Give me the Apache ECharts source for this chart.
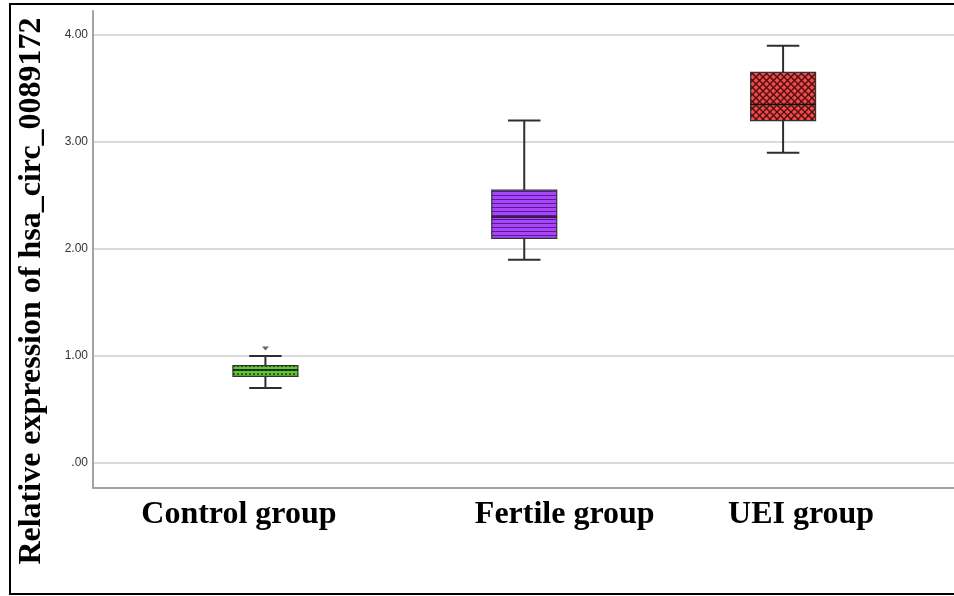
<!DOCTYPE html>
<html>
<head>
<meta charset="utf-8">
<script src="https://cdn.jsdelivr.net/npm/echarts@6/dist/echarts.min.js"></script>
<style>
  html, body { margin: 0; padding: 0; background: #fff; }
  #chart { width: 954px; height: 596px; }
</style>
</head>
<body>
<div id="chart"></div>
<script>
// Group names on the x axis
const categories = ['Control group', 'Fertile group', 'UEI group'];
// Five-number summaries per group: [min, Q1, median, Q3, max]
const controlBox = [0.70, 0.81, 0.87, 0.91, 1.00];
const fertileBox = [1.90, 2.10, 2.30, 2.55, 3.20];
const ueiBox = [2.90, 3.20, 3.35, 3.65, 3.90];
// Outlying observations: [group index, value]
const outliers = [[0, 1.07]];
// Y axis ticks and their printed labels
const yTicks = [0, 1, 2, 3, 4];
const yTickLabels = ['.00', '1.00', '2.00', '3.00', '4.00'];
const yTitle = 'Relative expression of hsa_circ_0089172';

// Small repeating canvas tiles used as box fills
function makePattern(w, h, draw) {
  const c = document.createElement('canvas');
  c.width = w; c.height = h;
  const ctx = c.getContext('2d');
  draw(ctx, w, h);
  return { image: c, repeat: 'repeat' };
}
const dotFill = makePattern(4, 4, (ctx, w, h) => {
  ctx.fillStyle = '#5fc832'; ctx.fillRect(0, 0, w, h);
  ctx.fillStyle = '#2a5f18'; ctx.fillRect(1, 1, 2, 2);
});
const stripeFill = makePattern(4, 4, (ctx, w, h) => {
  ctx.fillStyle = '#a646f8'; ctx.fillRect(0, 0, w, h);
  ctx.fillStyle = '#5a1894'; ctx.fillRect(0, 3, w, 1);
});
const hatchFill = makePattern(7, 7, (ctx, w, h) => {
  ctx.fillStyle = '#f24a4a'; ctx.fillRect(0, 0, w, h);
  ctx.strokeStyle = '#4a1010'; ctx.lineWidth = 1.4;
  ctx.beginPath();
  ctx.moveTo(-1, -1); ctx.lineTo(w + 1, h + 1);
  ctx.moveTo(w + 1, -1); ctx.lineTo(-1, h + 1);
  ctx.stroke();
});
const boxFills = [dotFill, stripeFill, hatchFill];

const boxData = [controlBox, fertileBox, ueiBox].map((b, i) => [i].concat(b));

function renderBox(params, api) {
  const x = api.value(0);
  const lo = api.coord([x, api.value(1)]);
  const q1 = api.coord([x, api.value(2)]);
  const med = api.coord([x, api.value(3)]);
  const q3 = api.coord([x, api.value(4)]);
  const hi = api.coord([x, api.value(5)]);
  const band = api.size([1, 0])[0];
  const boxW = band * 0.251;
  const capW = boxW * 0.5;
  const cx = lo[0];
  const whisker = { stroke: '#2e2e2e', lineWidth: 2 };
  return {
    type: 'group',
    children: [
      { type: 'line', shape: { x1: cx, y1: hi[1], x2: cx, y2: q3[1] }, style: whisker },
      { type: 'line', shape: { x1: cx, y1: q1[1], x2: cx, y2: lo[1] }, style: whisker },
      { type: 'line', shape: { x1: cx - capW / 2, y1: hi[1], x2: cx + capW / 2, y2: hi[1] }, style: whisker },
      { type: 'line', shape: { x1: cx - capW / 2, y1: lo[1], x2: cx + capW / 2, y2: lo[1] }, style: whisker },
      {
        type: 'rect',
        shape: { x: cx - boxW / 2, y: q3[1], width: boxW, height: q1[1] - q3[1] },
        style: { fill: boxFills[params.dataIndex], stroke: '#333', lineWidth: 1.2 }
      },
      { type: 'line', shape: { x1: cx - boxW / 2, y1: med[1], x2: cx + boxW / 2, y2: med[1] },
        style: { stroke: '#111', lineWidth: 1.5 } }
    ]
  };
}

const labelFont = { fontFamily: 'Liberation Serif', fontWeight: 'bold', fontSize: 32, color: '#000' };

const chart = echarts.init(document.getElementById('chart'), null, { renderer: 'canvas' });
chart.setOption({
  animation: false,
  backgroundColor: '#fff',
  grid: [
    // gridlines and value labels
    { left: 93, right: 0, top: 35, bottom: 133, containLabel: false, outerBoundsMode: 'none' },
    // axis frame
    { left: 93, right: 0, top: 11, bottom: 108, containLabel: false, outerBoundsMode: 'none' },
    // boxes
    { left: 136, right: 41.5, top: 35, bottom: 133, containLabel: false, outerBoundsMode: 'none' }
  ],
  xAxis: [
    { gridIndex: 0, type: 'value', min: 0, max: 1, show: false },
    {
      gridIndex: 1, type: 'value', min: 0, max: 1,
      axisLine: { show: true, onZero: false, lineStyle: { color: '#a3a3a3', width: 2 } },
      axisTick: { show: false }, axisLabel: { show: false }, splitLine: { show: false }
    },
    {
      gridIndex: 2, type: 'category', data: categories, boundaryGap: true,
      axisLine: { show: false }, axisTick: { show: false }, splitLine: { show: false },
      axisLabel: {
        interval: 0, margin: 36,
        formatter: (v, i) => '{g' + i + '|' + v + '}',
        rich: {
          g0: Object.assign({ padding: [0, 53, 0, 0] }, labelFont),
          g1: Object.assign({ padding: [0, 0, 0, 81] }, labelFont),
          g2: Object.assign({ padding: [0, 0, 0, 36] }, labelFont)
        }
      }
    }
  ],
  yAxis: [
    {
      gridIndex: 0, type: 'value', min: 0, max: 4, interval: 1,
      axisLine: { show: false }, axisTick: { show: false },
      splitLine: { show: true, lineStyle: { color: '#dadada', width: 2 } },
      axisLabel: {
        margin: 5, fontSize: 12, fontFamily: 'Liberation Sans', color: '#333',
        formatter: v => yTickLabels[yTicks.indexOf(v)]
      }
    },
    {
      gridIndex: 1, type: 'value', min: 0, max: 1,
      axisLine: { show: true, onZero: false, lineStyle: { color: '#a3a3a3', width: 2 } },
      axisTick: { show: false }, axisLabel: { show: false }, splitLine: { show: false }
    },
    { gridIndex: 2, type: 'value', min: 0, max: 4, show: false }
  ],
  series: [
    {
      type: 'custom', xAxisIndex: 2, yAxisIndex: 2,
      renderItem: renderBox,
      encode: { x: 0, y: [1, 2, 3, 4, 5] },
      data: boxData,
      silent: true
    },
    {
      type: 'scatter', xAxisIndex: 2, yAxisIndex: 2,
      symbol: 'triangle', symbolRotate: 180, symbolSize: [7, 4],
      itemStyle: { color: '#444' },
      data: outliers,
      silent: true
    }
  ],
  graphic: [
    {
      type: 'rect', z: 100, silent: true,
      shape: { x: 10, y: 4, width: 1000, height: 590 },
      style: { fill: 'none', stroke: '#000', lineWidth: 2 }
    },
    {
      type: 'text', z: 100, silent: true,
      x: 32, y: 291, rotation: Math.PI / 2,
      style: {
        text: yTitle, fill: '#000',
        fontFamily: 'Liberation Serif', fontWeight: 'bold', fontSize: 32,
        align: 'center', verticalAlign: 'middle'
      }
    }
  ]
});
</script>
</body>
</html>
